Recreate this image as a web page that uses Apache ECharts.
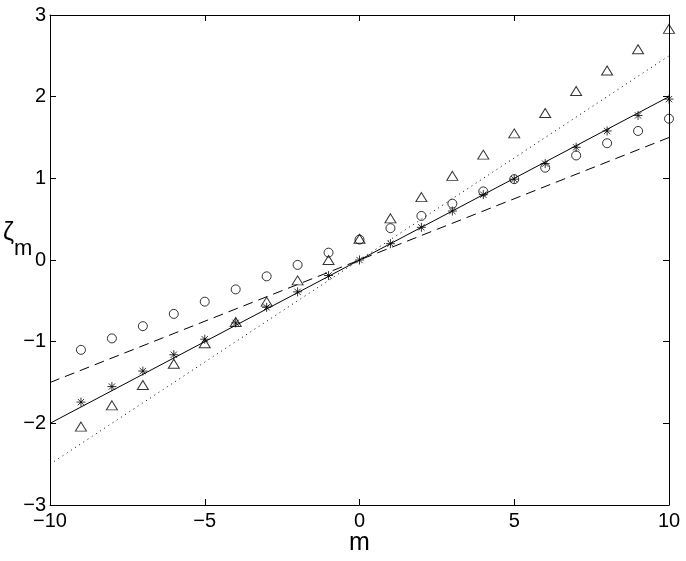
<!DOCTYPE html>
<html>
<head>
<meta charset="utf-8">
<script src="https://cdn.jsdelivr.net/npm/echarts@6/dist/echarts.min.js"></script>
<style>
  html, body { margin: 0; padding: 0; background: #fff; }
  #chart { width: 686px; height: 561px; }
</style>
</head>
<body>
<div id="chart"></div>
<script>
// m values for the marker series
var mVals = [-9, -8, -7, -6, -5, -4, -3, -2, -1, 0, 1, 2, 3, 4, 5, 6, 7, 8, 9, 10];
var circleVals = [-1.10, -0.96, -0.81, -0.66, -0.51, -0.36, -0.20, -0.06, 0.09, 0.25,
                  0.39, 0.54, 0.69, 0.84, 0.99, 1.13, 1.28, 1.43, 1.58, 1.73];
var triangleVals = [-2.04, -1.78, -1.53, -1.27, -1.02, -0.76, -0.51, -0.25, 0.00, 0.26,
                    0.51, 0.77, 1.03, 1.29, 1.55, 1.80, 2.07, 2.32, 2.58, 2.83];
var starVals = [-1.74, -1.55, -1.36, -1.16, -0.97, -0.77, -0.58, -0.39, -0.19, 0.00,
                0.20, 0.40, 0.60, 0.80, 0.99, 1.18, 1.38, 1.58, 1.77, 1.97];
// straight reference lines (end points)
var lineM = [-10, 10];
var solidLine = [-2, 2];
var dashedLine = [-1.5, 1.5];
var dottedLine = [-2.5, 2.5];

function pairs(xs, ys) {
  return xs.map(function (x, i) { return [x, ys[i]]; });
}
function fmt(v) {
  return v < 0 ? "\u2212" + Math.abs(v) : String(v);
}

var FONT = "Liberation Sans, Arial, sans-serif";
var chart = echarts.init(document.getElementById("chart"));

var axisBase = {
  type: "value",
  axisLine: { show: true, onZero: false, lineStyle: { color: "#000", width: 1 } },
  axisTick: { show: true, inside: true, length: 6, lineStyle: { color: "#000" } },
  splitLine: { show: false }
};

chart.setOption({
  animation: false,
  backgroundColor: "#fff",
  grid: { left: 50, right: 17, top: 15, bottom: 56 },
  xAxis: [
    Object.assign({}, axisBase, {
      min: -10, max: 10, interval: 5, position: "bottom",
      axisLabel: { color: "#000", fontSize: 20, fontFamily: FONT, margin: 6, formatter: fmt }
    }),
    Object.assign({}, axisBase, {
      min: -10, max: 10, interval: 5, position: "top",
      axisLabel: { show: false }
    })
  ],
  yAxis: [
    Object.assign({}, axisBase, {
      min: -3, max: 3, interval: 1, position: "left",
      axisLabel: { color: "#000", fontSize: 20, fontFamily: FONT, margin: 4, formatter: fmt }
    }),
    Object.assign({}, axisBase, {
      min: -3, max: 3, interval: 1, position: "right",
      axisLabel: { show: false }
    })
  ],
  graphic: [
    {
      type: "text", left: 349, top: 531,
      style: { text: "m", fontSize: 25, fontFamily: FONT, fill: "#000" }
    },
    {
      type: "text", left: 3, top: 221,
      style: { text: "\u03b6", fontSize: 25, fontFamily: FONT, fill: "#000" }
    },
    {
      type: "text", left: 14, top: 238,
      style: { text: "m", fontSize: 22, fontFamily: FONT, fill: "#000" }
    }
  ],
  series: [
    {
      type: "line", data: pairs(lineM, solidLine), symbol: "none",
      lineStyle: { color: "#000", width: 1 }
    },
    {
      type: "line", data: pairs(lineM, dashedLine), symbol: "none",
      lineStyle: { color: "#000", width: 1, type: [10, 6] }
    },
    {
      type: "line", data: pairs(lineM, dottedLine), symbol: "none",
      lineStyle: { color: "#000", width: 1, type: [1, 4] }
    },
    {
      type: "scatter", data: pairs(mVals, circleVals), symbol: "circle", symbolSize: 9,
      itemStyle: { color: "rgba(0,0,0,0)", borderColor: "#000", borderWidth: 1 }
    },
    {
      type: "scatter", data: pairs(mVals, triangleVals), symbol: "triangle", symbolSize: [11, 9],
      itemStyle: { color: "rgba(0,0,0,0)", borderColor: "#000", borderWidth: 1 }
    },
    {
      type: "scatter", data: pairs(mVals, starVals),
      symbol: "path://M0,5L10,5M5,0L5,10M1.5,1.5L8.5,8.5M8.5,1.5L1.5,8.5",
      symbolSize: 9,
      itemStyle: { color: "rgba(0,0,0,0)", borderColor: "#000", borderWidth: 1 }
    }
  ]
});
</script>
</body>
</html>
